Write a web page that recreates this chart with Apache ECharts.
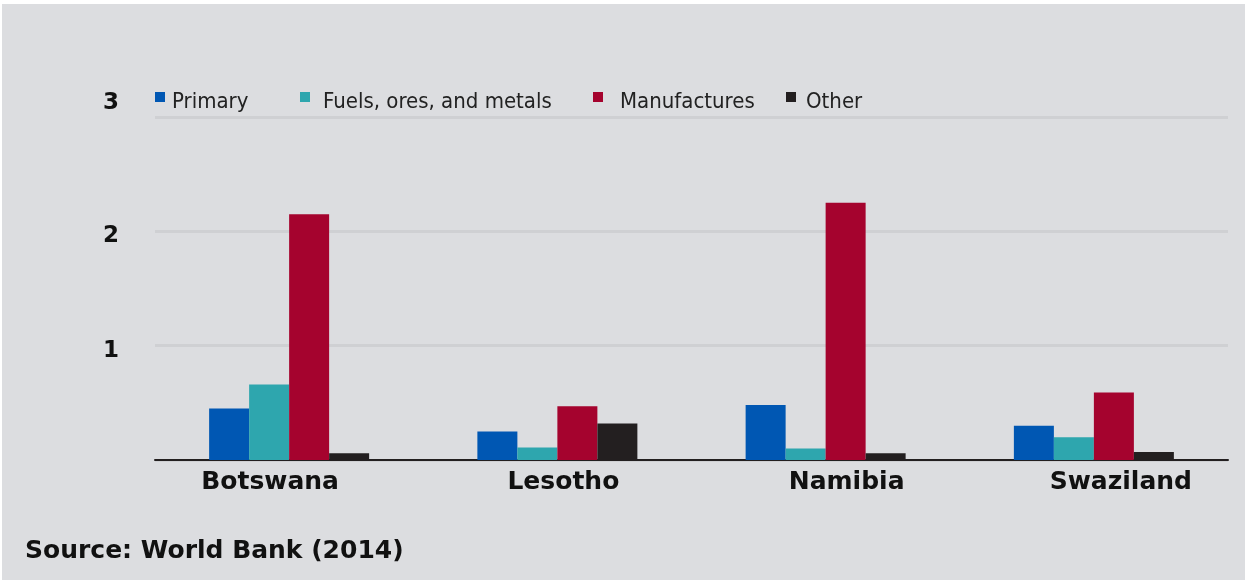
<!DOCTYPE html>
<html><head><meta charset="utf-8">
<script src="https://cdn.jsdelivr.net/npm/echarts@6/dist/echarts.min.js"></script>
<style>
html,body{margin:0;padding:0;background:#ffffff;}
#c{position:absolute;left:2px;top:4px;width:1243px;height:576px;background:#dcdde0;}
</style></head>
<body><div id="c"></div>
<script>
const categories = ['Botswana', 'Lesotho', 'Namibia', 'Swaziland'];
const seriesNames = ['Primary', 'Fuels, ores, and metals', 'Manufactures', 'Other'];
const primary = [0.45, 0.25, 0.48, 0.30];
const fuels = [0.66, 0.11, 0.10, 0.20];
const manufactures = [2.15, 0.47, 2.25, 0.59];
const other = [0.06, 0.32, 0.06, 0.07];
const yTicks = [0, 1, 2, 3];
const colors = ['#0057b3', '#2ea6ae', '#a5032e', '#231f20'];
const labelShift = [-19, 6, 21, 27];

const chart = echarts.init(document.getElementById('c'));
const values = [primary, fuels, manufactures, other];
const legendLefts = [153, 298, 591, 784];
const legendTextGap = [2, 8, 12, 5];
const boldFont = "'DejaVu Sans',sans-serif";
const legendFont = "'Liberation Sans Narrow','DejaVu Sans Condensed','Noto Sans',sans-serif";

chart.setOption({
  backgroundColor: '#dcdde0',
  animation: false,
  title: {
    text: 'Source: World Bank (2014)',
    left: 23, top: 535, padding: 0,
    textStyle: {fontFamily: boldFont, fontWeight: 'bold', fontSize: 25, color: '#111'}
  },
  legend: seriesNames.map((n, i) => ({
    data: [n], left: legendLefts[i], top: 87, padding: 0,
    itemWidth: 10, itemHeight: 10, itemGap: 0,
    icon: 'rect',
    formatter: name => '{t|' + name + '}',
    textStyle: {
      rich: {t: {fontFamily: legendFont, fontSize: 22, color: '#222', padding: [10, 0, 0, legendTextGap[i]]}}
    }
  })),
  grid: {left: 153, right: 17, top: 113, bottom: 120},
  xAxis: {
    type: 'category',
    data: categories.map((c, i) => ({
      value: c,
      textStyle: {padding: labelShift[i] < 0 ? [0, -2 * labelShift[i], 0, 0] : [0, 0, 0, 2 * labelShift[i]]}
    })),
    axisLine: {lineStyle: {color: '#231f20', width: 2}},
    axisTick: {show: false},
    axisLabel: {fontFamily: boldFont, fontWeight: 'bold', fontSize: 25, color: '#111', margin: 10}
  },
  yAxis: {
    type: 'value', min: 0, max: 3, interval: 1,
    axisLine: {show: false}, axisTick: {show: false},
    splitLine: {lineStyle: {color: '#cfd0d3', width: 3}},
    axisLabel: {
      color: '#111', margin: 36,
      formatter: v => {
        if (v === 0) return '';
        const t = String(yTicks[yTicks.indexOf(v)]);
        return v === 3 ? '{top|' + t + '}' : '{n|' + t + '}';
      },
      rich: {
        top: {fontFamily: boldFont, fontWeight: 'bold', fontSize: 23, color: '#111', padding: [0, 0, 28, 0]},
        n: {fontFamily: boldFont, fontWeight: 'bold', fontSize: 23, color: '#111', padding: [10, 0, 0, 0]}
      }
    }
  },
  series: seriesNames.map((n, i) => ({
    name: n, type: 'bar', data: values[i],
    barWidth: 40, barGap: '0%',
    itemStyle: {color: colors[i]}
  }))
});
</script></body></html>
